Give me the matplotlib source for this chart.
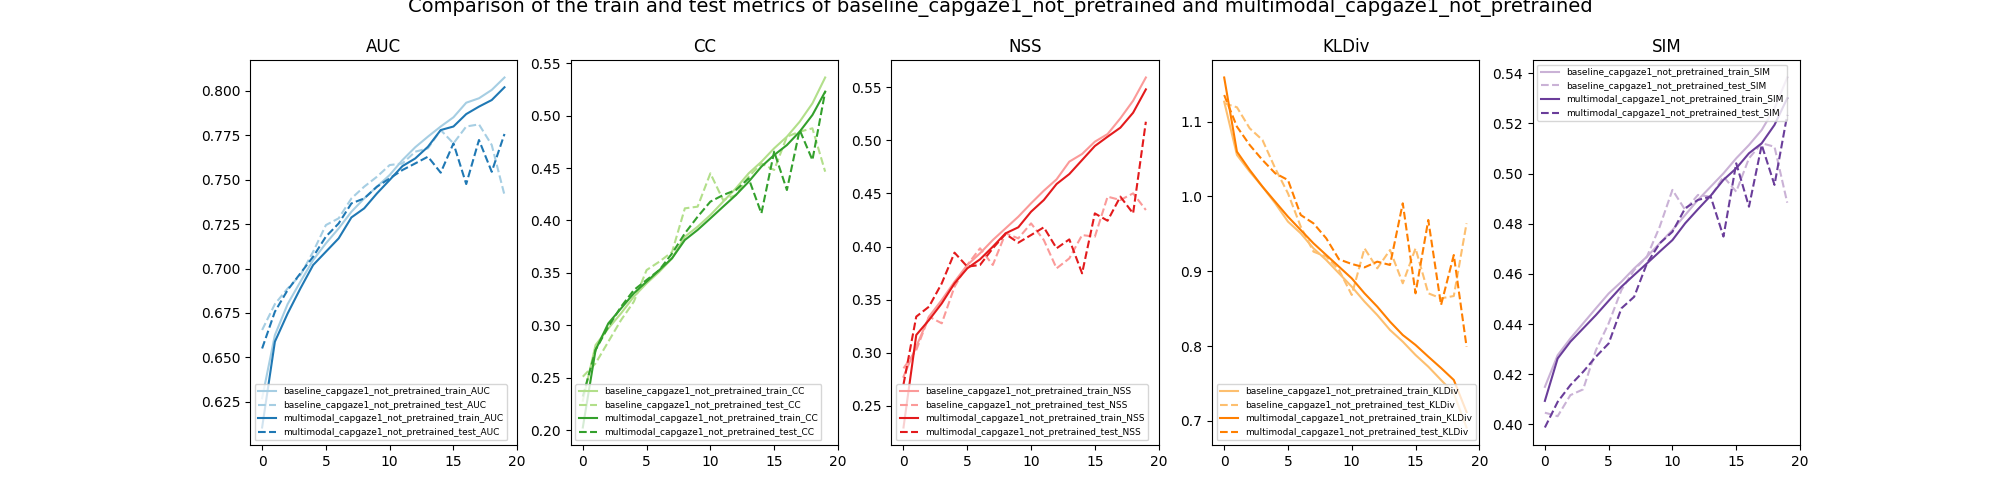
import matplotlib
matplotlib.use("Agg")
import matplotlib.pyplot as plt

# epochs 0..19
epochs = list(range(20))

metrics = ["AUC", "CC", "NSS", "KLDiv", "SIM"]
models = ["baseline_capgaze1_not_pretrained", "multimodal_capgaze1_not_pretrained"]

auc_base_train = [0.627, 0.6625, 0.680, 0.6926, 0.7048, 0.7142, 0.7226, 0.732, 0.7395, 0.7461,
                  0.7527, 0.7611, 0.7683, 0.7743, 0.780, 0.7852, 0.7934, 0.7959, 0.8006, 0.8076]
auc_base_test = [0.6654, 0.680, 0.6888, 0.6963, 0.7095, 0.7245, 0.7283, 0.7395, 0.7461, 0.7517,
                 0.7583, 0.7592, 0.7658, 0.7677, 0.778, 0.7705, 0.780, 0.7812, 0.7696, 0.7414]
auc_mm_train = [0.6105, 0.6588, 0.6747, 0.6888, 0.702, 0.7095, 0.717, 0.7288, 0.7339, 0.7423,
                0.7499, 0.7577, 0.762, 0.7686, 0.778, 0.780, 0.787, 0.7912, 0.7949, 0.8021]
auc_mm_test = [0.655, 0.6757, 0.6879, 0.6973, 0.7067, 0.718, 0.7254, 0.7367, 0.7395, 0.7461,
               0.7508, 0.7555, 0.7592, 0.763, 0.754, 0.7705, 0.7476, 0.7724, 0.7545, 0.7758]

cc_base_train = [0.228, 0.2811, 0.297, 0.3114, 0.3273, 0.340, 0.3511, 0.3639, 0.3845, 0.3941,
                 0.4052, 0.418, 0.4307, 0.445, 0.4561, 0.4689, 0.480, 0.4943, 0.5118, 0.5365]
cc_base_test = [0.2509, 0.2636, 0.2843, 0.305, 0.3225, 0.3527, 0.3607, 0.3700, 0.4116, 0.4132,
                0.445, 0.4195, 0.4243, 0.4418, 0.4545, 0.4482, 0.480, 0.4848, 0.488, 0.4466]
cc_mm_train = [0.2024, 0.2764, 0.3018, 0.3161, 0.3305, 0.3416, 0.3527, 0.3640, 0.3814, 0.391,
               0.402, 0.4132, 0.4243, 0.437, 0.4514, 0.4625, 0.472, 0.4848, 0.5007, 0.523]
cc_mm_test = [0.232, 0.2764, 0.2986, 0.3177, 0.3336, 0.3432, 0.3527, 0.3686, 0.3877, 0.4036,
              0.418, 0.4243, 0.4291, 0.4402, 0.4068, 0.4657, 0.4291, 0.4864, 0.4577, 0.523]

nss_base_train = [0.2773, 0.3056, 0.3339, 0.3496, 0.3668, 0.3826, 0.3936, 0.4061, 0.4171, 0.4281,
                  0.4407, 0.4526, 0.4633, 0.480, 0.4872, 0.4988, 0.506, 0.5208, 0.5374, 0.5593]
nss_base_test = [0.2852, 0.3024, 0.3339, 0.3276, 0.3621, 0.3826, 0.3983, 0.3826, 0.4124, 0.4077,
                 0.4218, 0.4061, 0.3794, 0.3888, 0.4108, 0.4092, 0.447, 0.4438, 0.4501, 0.4344]
nss_mm_train = [0.2294, 0.3166, 0.3307, 0.3464, 0.3653, 0.3794, 0.3879, 0.3998, 0.4124, 0.4181,
                0.4328, 0.4438, 0.4589, 0.4683, 0.4815, 0.4947, 0.5035, 0.512, 0.5261, 0.5481]
nss_mm_test = [0.270, 0.3339, 0.3433, 0.3653, 0.3942, 0.381, 0.3826, 0.3983, 0.4118, 0.4036,
               0.4108, 0.4181, 0.3983, 0.4067, 0.3747, 0.4312, 0.4243, 0.447, 0.4312, 0.5176]

kl_base_train = [1.1267, 1.0555, 1.0332, 1.0131, 0.9909, 0.9664, 0.9508, 0.9307, 0.9151, 0.8973,
                 0.8795, 0.8595, 0.8416, 0.8216, 0.806, 0.7882, 0.7726, 0.7548, 0.737, 0.6913]
kl_base_test = [1.1245, 1.1192, 1.0911, 1.0755, 1.0376, 1.0042, 0.9597, 0.9263, 0.9196, 0.9018,
                0.8684, 0.9307, 0.904, 0.9285, 0.884, 0.9307, 0.8706, 0.8639, 0.867, 0.9641]
kl_mm_train = [1.159, 1.0599, 1.0354, 1.0131, 0.993, 0.973, 0.9552, 0.9374, 0.9218, 0.9062,
               0.8906, 0.8706, 0.8528, 0.8327, 0.8149, 0.8016, 0.786, 0.7708, 0.7548, 0.712]
kl_mm_test = [1.1356, 1.0933, 1.0688, 1.0488, 1.031, 1.022, 0.9753, 0.9641, 0.9441, 0.916,
              0.9098, 0.9053, 0.9129, 0.9085, 0.9909, 0.8706, 0.9686, 0.855, 0.9218, 0.7993]

sim_base_train = [0.415, 0.4276, 0.4343, 0.4403, 0.4463, 0.4522, 0.4569, 0.4622, 0.4669, 0.4722,
                  0.4775, 0.4835, 0.4895, 0.4948, 0.5001, 0.5061, 0.5114, 0.5174, 0.526, 0.5383]
sim_base_test = [0.4047, 0.4033, 0.4117, 0.414, 0.4296, 0.4403, 0.4536, 0.4616, 0.4669, 0.4788,
                 0.4935, 0.4855, 0.4915, 0.4908, 0.4988, 0.4928, 0.5061, 0.5121, 0.5107, 0.4884]
sim_mm_train = [0.4094, 0.4263, 0.433, 0.4383, 0.4436, 0.4493, 0.4549, 0.4596, 0.4642, 0.4689,
                0.4735, 0.4802, 0.4858, 0.4912, 0.4975, 0.5021, 0.5081, 0.5121, 0.5194, 0.530]
sim_mm_test = [0.3988, 0.409, 0.4157, 0.421, 0.427, 0.4323, 0.4463, 0.4509, 0.4642, 0.4722,
               0.4768, 0.4862, 0.4895, 0.4908, 0.4749, 0.5041, 0.4868, 0.5114, 0.4955, 0.5234]

series = {
    "AUC": (auc_base_train, auc_base_test, auc_mm_train, auc_mm_test),
    "CC": (cc_base_train, cc_base_test, cc_mm_train, cc_mm_test),
    "NSS": (nss_base_train, nss_base_test, nss_mm_train, nss_mm_test),
    "KLDiv": (kl_base_train, kl_base_test, kl_mm_train, kl_mm_test),
    "SIM": (sim_base_train, sim_base_test, sim_mm_train, sim_mm_test),
}

# paired colours: (light, dark) per metric
colors = {
    "AUC": ("#a6cee3", "#1f78b4"),
    "CC": ("#b2df8a", "#33a02c"),
    "NSS": ("#fb9a99", "#e31a1c"),
    "KLDiv": ("#fdbf6f", "#ff7f00"),
    "SIM": ("#cab2d6", "#6a3d9a"),
}
legend_loc = {"AUC": "lower left", "CC": "lower left", "NSS": "lower left",
              "KLDiv": "lower left", "SIM": "upper left"}

fig, axes = plt.subplots(1, 5, figsize=(20, 5), dpi=100)
for ax, metric in zip(axes, metrics):
    b_train, b_test, m_train, m_test = series[metric]
    light, dark = colors[metric]
    ax.plot(epochs, b_train, color=light, label=f"{models[0]}_train_{metric}")
    ax.plot(epochs, b_test, color=light, linestyle="--", label=f"{models[0]}_test_{metric}")
    ax.plot(epochs, m_train, color=dark, label=f"{models[1]}_train_{metric}")
    ax.plot(epochs, m_test, color=dark, linestyle="--", label=f"{models[1]}_test_{metric}")
    ax.set_title(metric)
    ax.set_xticks([0, 5, 10, 15, 20])
    ax.legend(loc=legend_loc[metric], fontsize=6.5)

fig.suptitle(f"Comparison of the train and test metrics of {models[0]} and {models[1]}",
             fontsize=14, y=1 - 12 / 500, va="baseline")
plt.savefig("out.png", dpi=100)
plt.close(fig)
